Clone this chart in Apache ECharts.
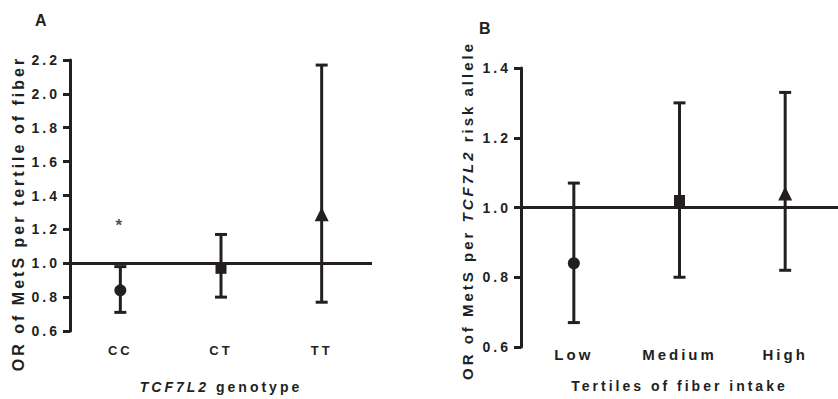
<!DOCTYPE html>
<html>
<head>
<meta charset="utf-8">
<script src="https://cdn.jsdelivr.net/npm/echarts@6/dist/echarts.min.js"></script>
<style>
  html, body { margin: 0; padding: 0; background: #fff; }
  /* the figure uses widely spaced bold text */
  #chart { width: 838px; height: 399px; letter-spacing: 3px; }
</style>
</head>
<body>
<div id="chart"></div>
<script>
// panel A: OR per tertile of fiber, by genotype
const genotypes = ["CC", "CT", "TT"];
const orA = [0.84, 0.97, 1.29];
const lowA = [0.71, 0.80, 0.77];
const highA = [0.98, 1.17, 2.17];
const starA = [["CC", 1.22]];
const ticksA = [0.6, 0.8, 1.0, 1.2, 1.4, 1.6, 1.8, 2.0, 2.2];

// panel B: OR per risk allele, by tertile of fiber intake
const tertiles = ["Low", "Medium", "High"];
const orB = [0.84, 1.02, 1.04];
const lowB = [0.67, 0.80, 0.82];
const highB = [1.07, 1.30, 1.33];
const ticksB = [0.6, 0.8, 1.0, 1.2, 1.4];

const ink = "#231f20";
const font = "Liberation Sans";
const spacing = 3;
const nbsp = "\u00a0";
const shapes = ["circle", "rect", "triangle"];
const shapeSizes = [12, 11, 14];

// name made of plain / italic pieces, laid out left to right;
// right padding makes room for the css letter spacing
function richName(parts, size) {
  const rich = {};
  const text = parts.map(function(p, k) {
    const s = p[0].replace(/^ | $/g, nbsp);
    rich["s" + k] = {
      align: "left",
      fontFamily: font,
      fontWeight: "bold",
      fontStyle: p[1] ? "italic" : "normal",
      fontSize: size,
      color: ink,
      padding: [0, s.length * spacing, 0, 0]
    };
    return "{s" + k + "|" + s + "}";
  }).join("");
  return { text: text, rich: rich };
}

function errorBars(cats, lows, highs, idx) {
  return {
    type: "custom",
    xAxisIndex: idx,
    yAxisIndex: idx,
    z: 3,
    data: cats.map((c, i) => [i, lows[i], highs[i]]),
    renderItem: function(params, api) {
      const lo = api.coord([api.value(0), api.value(1)]);
      const hi = api.coord([api.value(0), api.value(2)]);
      const cap = 6;
      const style = { stroke: ink, lineWidth: 3, fill: null };
      return {
        type: "group",
        children: [
          { type: "line", shape: { x1: lo[0], y1: lo[1], x2: hi[0], y2: hi[1] }, style: style },
          { type: "line", shape: { x1: lo[0] - cap, y1: lo[1], x2: lo[0] + cap, y2: lo[1] }, style: style },
          { type: "line", shape: { x1: hi[0] - cap, y1: hi[1], x2: hi[0] + cap, y2: hi[1] }, style: style }
        ]
      };
    }
  };
}

function points(cats, vals, idx) {
  return {
    type: "scatter",
    xAxisIndex: idx,
    yAxisIndex: idx,
    z: 4,
    data: cats.map((c, i) => ({
      value: [c, vals[i]],
      symbol: shapes[i],
      symbolSize: shapeSizes[i]
    })),
    itemStyle: { color: ink, opacity: 1 },
    markLine: {
      silent: true,
      symbol: "none",
      label: { show: false },
      lineStyle: { color: ink, width: 3, type: "solid" },
      data: [{ yAxis: 1 }]
    }
  };
}

function yAxis(idx, min, max, name, nameSize, nameGap, namePad) {
  return {
    type: "value",
    gridIndex: idx,
    min: min,
    max: max,
    interval: 0.2,
    name: name.text,
    nameLocation: "middle",
    nameGap: nameGap,
    nameTextStyle: {
      color: ink,
      fontFamily: font,
      fontWeight: "bold",
      fontSize: nameSize,
      padding: namePad,
      rich: name.rich
    },
    splitLine: { show: false },
    axisLine: { show: true, lineStyle: { color: ink, width: 3 } },
    axisTick: { show: true, length: 7, lineStyle: { color: ink, width: 3 } },
    axisLabel: {
      color: ink,
      fontFamily: font,
      fontWeight: "bold",
      fontSize: 14,
      margin: 10,
      formatter: v => v.toFixed(1)
    }
  };
}

function xAxis(idx, cats, name, nameGap, labelSize, margin) {
  return {
    type: "category",
    gridIndex: idx,
    data: cats,
    name: name.text,
    nameLocation: "middle",
    nameGap: nameGap,
    nameTextStyle: {
      color: ink,
      fontFamily: font,
      fontWeight: "bold",
      fontSize: 14,
      rich: name.rich
    },
    axisLine: { show: false },
    axisTick: { show: false },
    axisLabel: {
      color: ink,
      fontFamily: font,
      fontWeight: "bold",
      fontSize: labelSize,
      margin: margin
    }
  };
}

const chart = echarts.init(document.getElementById("chart"), null, { renderer: "svg" });
chart.setOption({
  animation: false,
  backgroundColor: "#fff",
  title: [
    { text: "A", left: 35, top: 12, padding: 0, textStyle: { color: ink, fontFamily: font, fontWeight: "bold", fontSize: 16 } },
    { text: "B", left: 479, top: 20, padding: 0, textStyle: { color: ink, fontFamily: font, fontWeight: "bold", fontSize: 16 } }
  ],
  grid: [
    { left: 70, top: 60, width: 302, height: 272 },
    { left: 521, top: 68, width: 317, height: 279 }
  ],
  xAxis: [
    xAxis(0, genotypes, richName([["TCF7L2", 1], [" genotype", 0]], 14), 49, 13, 13),
    xAxis(1, tertiles, { text: "Tertiles of fiber intake" }, 32, 15, 0)
  ],
  yAxis: [
    yAxis(0, ticksA[0], ticksA[ticksA.length - 1], { text: "OR of MetS per tertile of fiber" }, 16, 44, [0, 36, 0, 0]),
    yAxis(1, ticksB[0], ticksB[ticksB.length - 1],
      richName([["OR of MetS per ", 0], ["TCF7L2", 1], [" risk allele", 0]], 15), 15, 46, [0, 6, 0, 0])
  ],
  series: [
    errorBars(genotypes, lowA, highA, 0),
    points(genotypes, orA, 0),
    errorBars(tertiles, lowB, highB, 1),
    points(tertiles, orB, 1),
    {
      type: "scatter",
      xAxisIndex: 0,
      yAxisIndex: 0,
      symbolSize: 0,
      data: starA,
      label: {
        show: true,
        position: "inside",
        formatter: "*",
        color: ink,
        fontFamily: font,
        fontWeight: "bold",
        fontSize: 17
      }
    }
  ]
});
</script>
</body>
</html>
